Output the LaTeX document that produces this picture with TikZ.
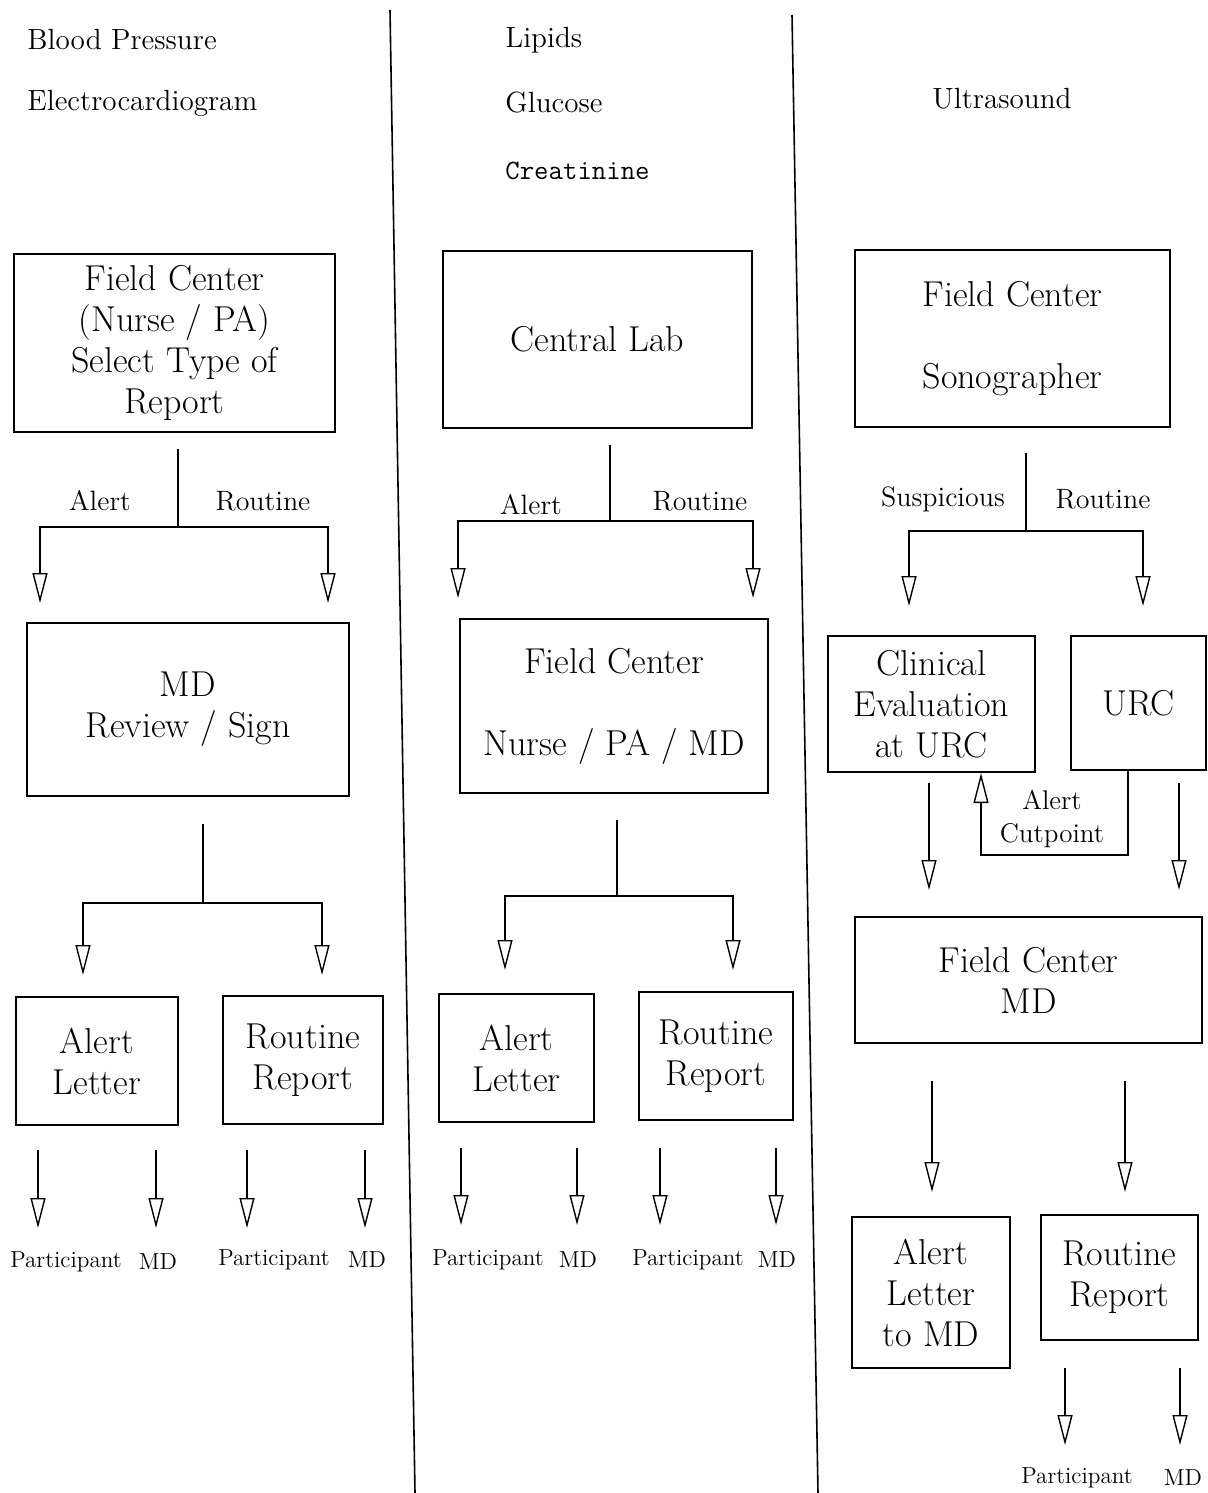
\documentclass[tikz,border=0pt]{standalone}
\usetikzlibrary{arrows.meta,calc}
\newcommand\boxfnt{\fontsize{18}{20.5}\selectfont}
\newcommand\lblfnt{\fontsize{14}{16}\selectfont}
\newcommand\hdrfnt{\fontsize{14.6}{16}\selectfont}
\newcommand\cutfnt{\fontsize{13.5}{16.5}\selectfont}
\newcommand\smlfnt{\fontsize{11.6}{13}\selectfont}
\begin{document}
\begin{tikzpicture}[x=0.5pt,y=-0.5pt,
  box/.style={draw, line width=1.1pt, inner sep=0pt, align=center, font=\boxfnt},
  conn/.style={line width=1.3pt},
  arr/.style={conn, -{Triangle[open, length=15pt, width=7.5pt, line width=0.7pt]}},
  hdr/.style={anchor=west, inner sep=0pt, font=\hdrfnt},
  lbl/.style={inner sep=0pt, font=\lblfnt},
  sml/.style={inner sep=0pt, font=\smlfnt},
  divider/.style={line width=0.8pt}]
\useasboundingbox (0,0) rectangle (1207,1493);
% dividers
\coordinate (v1t) at (390,10); \coordinate (v1b) at (415,1493);
\coordinate (v2t) at (792,15); \coordinate (v2b) at (818,1493);
\draw[divider] (v1t) -- (v1b);
\draw[divider] (v2t) -- (v2b);
% headers
\node[hdr] (h1) at (27,40) {Blood Pressure};
\node[hdr] (h2) at (27,103) {Electrocardiogram};
\node[hdr] (h3) at (505,40) {Lipids};
\node[hdr] (h4) at (505,103) {Glucose};
\node[hdr, font=\lblfnt\ttfamily] (h5) at (505,171) {Creatinine};
\node[hdr] (h6) at (932,99) {Ultrasound};
% ===== column 1 =====
\node[box, minimum width=160.5pt, minimum height=89pt] (b1) at (174.5,343) {Field Center\\(Nurse / PA)\\Select Type of\\Report};
\node[box, minimum width=161pt, minimum height=86.5pt] (b2) at (188,709.5) {MD\\Review / Sign};
\node[box, minimum width=81pt, minimum height=64pt] (b3) at (97,1061) {Alert\\Letter};
\node[box, minimum width=80pt, minimum height=64pt] (b4) at (303,1060) {Routine\\Report};
\coordinate (a1s) at (178,449); \coordinate (a1j) at (178,527);
\coordinate (a1l) at (40,603); \coordinate (a1r) at (328,603);
\draw[conn] (a1s) -- (a1j);
\draw[arr] (a1j) -| (a1l);
\draw[arr] (a1j) -| (a1r);
\node[lbl] (l1a) at (100,501) {Alert};
\node[lbl] (l1r) at (263,501) {Routine};
\coordinate (a2s) at (203,824); \coordinate (a2j) at (203,903);
\coordinate (a2l) at (83,975); \coordinate (a2r) at (322,975);
\draw[conn] (a2s) -- (a2j);
\draw[arr] (a2j) -| (a2l);
\draw[arr] (a2j) -| (a2r);
\foreach \x/\n in {38/p1,156/p2,247/p3,365/p4}{
  \coordinate (\n s) at (\x,1150); \coordinate (\n e) at (\x,1228);
  \draw[arr] (\n s) -- (\n e);}
\node[sml] (t1) at (66,1262) {Participant};
\node[sml] (t2) at (158,1262) {MD};
\node[sml] (t3) at (274,1260) {Participant};
\node[sml] (t4) at (367,1260) {MD};
% ===== column 2 =====
\node[box, minimum width=154.5pt, minimum height=88.5pt] (c1) at (597.5,339.5) {Central Lab};
\node[box, minimum width=154pt, minimum height=87pt] (c2) at (614,706) {Field Center\\[20.5pt]Nurse / PA / MD};
\node[box, minimum width=77.5pt, minimum height=64pt] (c3) at (516.5,1058) {Alert\\Letter};
\node[box, minimum width=77pt, minimum height=64pt] (c4) at (716,1056) {Routine\\Report};
\coordinate (k1s) at (610,445); \coordinate (k1j) at (610,521);
\coordinate (k1l) at (458,598); \coordinate (k1r) at (753,598);
\draw[conn] (k1s) -- (k1j);
\draw[arr] (k1j) -| (k1l);
\draw[arr] (k1j) -| (k1r);
\node[lbl] (l2a) at (531,505) {Alert};
\node[lbl] (l2r) at (700,501) {Routine};
\coordinate (k2s) at (617,820); \coordinate (k2j) at (617,896);
\coordinate (k2l) at (505,970); \coordinate (k2r) at (733,970);
\draw[conn] (k2s) -- (k2j);
\draw[arr] (k2j) -| (k2l);
\draw[arr] (k2j) -| (k2r);
\foreach \x/\n in {461/q1,577/q2,660/q3,776/q4}{
  \coordinate (\n s) at (\x,1148); \coordinate (\n e) at (\x,1225);
  \draw[arr] (\n s) -- (\n e);}
\node[sml] (u1) at (488,1260) {Participant};
\node[sml] (u2) at (578,1260) {MD};
\node[sml] (u3) at (688,1260) {Participant};
\node[sml] (u4) at (777,1260) {MD};
% ===== column 3 =====
\node[box, minimum width=157.5pt, minimum height=88.5pt] (d1) at (1012.5,338.5) {Field Center\\[20.5pt]Sonographer};
\node[box, minimum width=103.5pt, minimum height=68pt] (d2) at (931.5,704) {Clinical\\Evaluation\\at URC};
\node[box, minimum width=67.5pt, minimum height=67pt] (d3) at (1138.5,703) {URC};
\node[box, minimum width=173.5pt, minimum height=63pt] (d4) at (1028.5,980) {Field Center\\MD};
\node[box, minimum width=79pt, minimum height=75.5pt] (d5) at (931,1292.5) {Alert\\Letter\\to MD};
\node[box, minimum width=78.5pt, minimum height=62.5pt] (d6) at (1119.5,1277.5) {Routine\\Report};
\coordinate (m1s) at (1026,453); \coordinate (m1j) at (1026,531);
\coordinate (m1l) at (909,606); \coordinate (m1r) at (1143,606);
\draw[conn] (m1s) -- (m1j);
\draw[arr] (m1j) -| (m1l);
\draw[arr] (m1j) -| (m1r);
\node[lbl] (l3a) at (943,499) {Suspicious};
\node[lbl] (l3r) at (1103,499) {Routine};
\coordinate (m2s) at (929,783); \coordinate (m2e) at (929,890);
\coordinate (m3s) at (1179,783); \coordinate (m3e) at (1179,890);
\draw[arr] (m2s) -- (m2e);
\draw[arr] (m3s) -- (m3e);
\coordinate (cp1) at (1128,855); \coordinate (cp2) at (981,855);
\draw[arr] (d3.south -| cp1) -- (cp1) -- (cp2) -- (d2.south -| cp2);
\node[inner sep=0pt, align=center, font=\cutfnt] (cut) at (1052,819) {Alert\\Cutpoint};
\coordinate (m4s) at (932,1081); \coordinate (m4e) at (932,1192);
\coordinate (m5s) at (1125,1081); \coordinate (m5e) at (1125,1192);
\draw[arr] (m4s) -- (m4e);
\draw[arr] (m5s) -- (m5e);
\coordinate (m6s) at (1065,1368); \coordinate (m6e) at (1065,1445);
\coordinate (m7s) at (1180,1368); \coordinate (m7e) at (1180,1445);
\draw[arr] (m6s) -- (m6e);
\draw[arr] (m7s) -- (m7e);
\node[sml] (w1) at (1077,1478) {Participant};
\node[sml] (w2) at (1183,1478) {MD};
\end{tikzpicture}
\end{document}
